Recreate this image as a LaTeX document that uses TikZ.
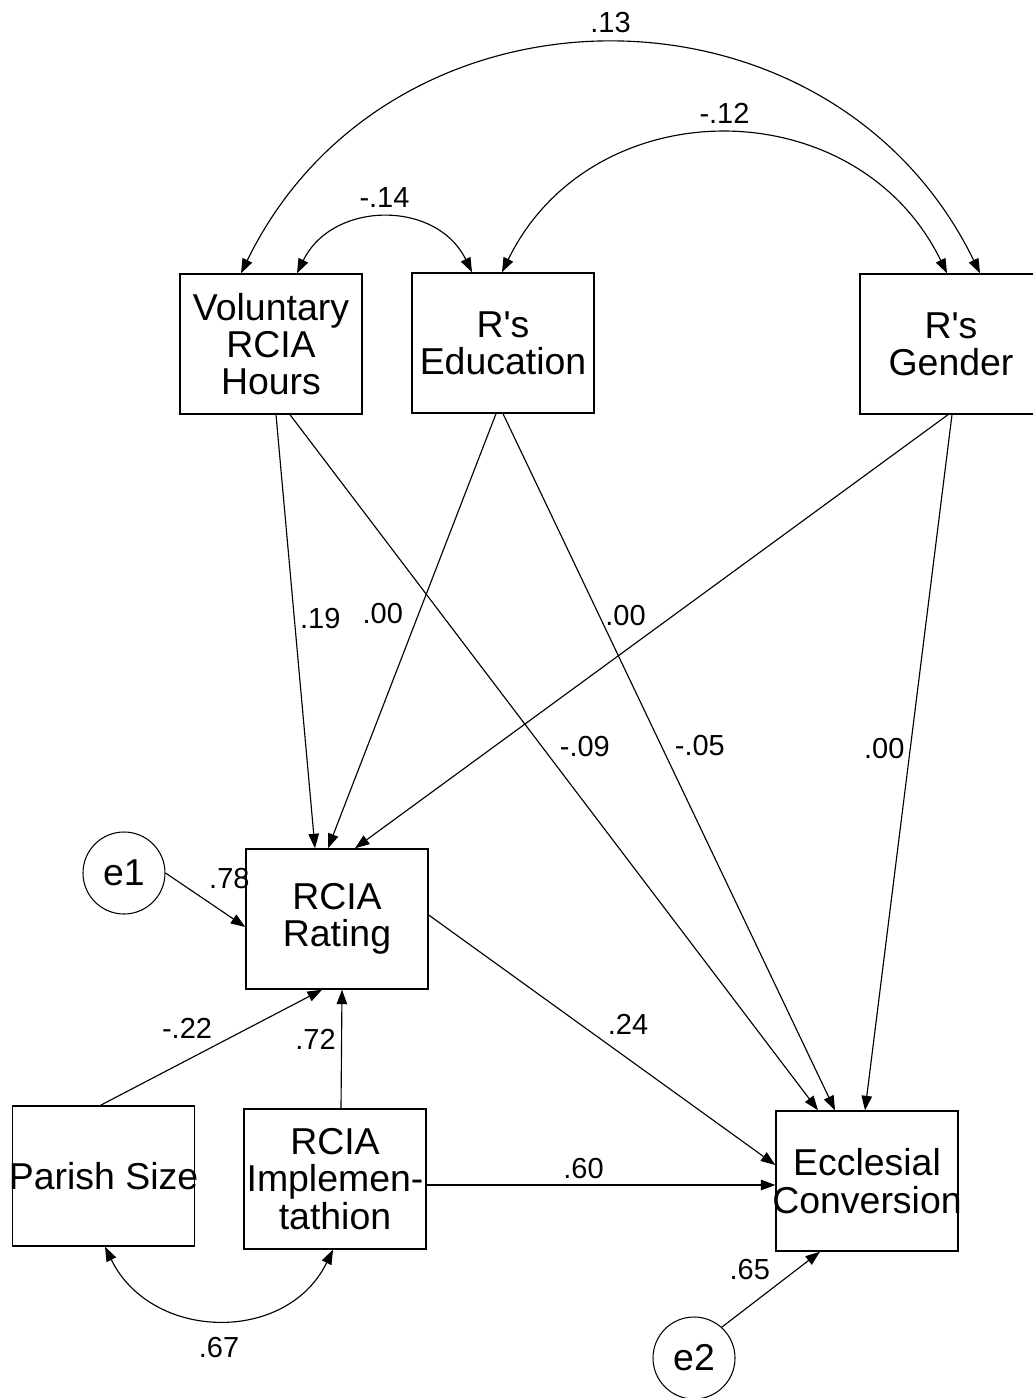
\documentclass[tikz,border=0pt]{standalone}
\usepackage{fontspec}
\newfontfamily\amosfont{Liberation Sans}
\usetikzlibrary{calc,positioning,arrows.meta}
\newcommand{\varfnt}{\amosfont\fontsize{21.3}{21.2}\selectfont}
\newcommand{\coeffnt}{\amosfont\fontsize{16.5}{18}\selectfont}

\begin{document}
\begin{tikzpicture}[x=0.2mm, y=0.2mm, >={Triangle[length=2.9mm,width=2.1mm]},
    var/.style={draw, line width=0.8pt, minimum width=36.4mm, minimum height=28mm,
      align=center, inner xsep=-8pt, inner ysep=1pt, font=\varfnt},
    err/.style={circle, draw, line width=0.6pt, minimum size=16.4mm, inner sep=0pt, font=\varfnt},
    path/.style={->, line width=0.65pt},
    cov/.style={<->, line width=0.65pt, out=64, in=116, looseness=1.18},
    coef/.style={font=\coeffnt, inner sep=3pt}]
  \useasboundingbox (0,0) rectangle (1032,-1398);

  % exogenous variables
  \node[var] (vol) at (271,-344) {Voluntary\\RCIA\\Hours};
  \node[var] (edu) at (503,-343) {R\textquotesingle s\\Education};
  \node[var] (gen) at (951,-344) {R\textquotesingle s\\Gender};
  \node[var] (size) at (103.5,-1176) {Parish Size};
  \node[var] (impl) at (335,-1179) {RCIA\\Implemen-\\tathion};
  % endogenous variables and their errors
  \node[var] (rate) at (337,-919) {RCIA\\Rating};
  \node[var] (conv) at (867,-1181) {Ecclesial\\Conversion};
  \node[err] (e1) at (124,-873) {e1};
  \node[err] (e2) at (694,-1358) {e2};

  % correlations
  \draw[cov] ([shift={(-30,0)}]vol.north) to node[coef, above=1mm] {.13} ([shift={(29,0)}]gen.north);
  \draw[cov] ([shift={(-1,0)}]edu.north) to node[coef, above=1mm] {-.12} ([shift={(-4,0)}]gen.north);
  \draw[cov] ([shift={(26,0)}]vol.north) to node[coef, above=1mm] {-.14} ([shift={(-31,0)}]edu.north);
  \draw[cov, out=-64, in=-116] ([shift={(1.5,0)}]size.south) to node[coef, below=2.5mm] {.67} ([shift={(-2,0)}]impl.south);

  % paths into RCIA rating
  \draw[path] ([shift={(5,0)}]vol.south) -- node[coef, pos=.47, right] {.19} ([shift={(-22,0)}]rate.north);
  \draw[path] ([shift={(-7,0)}]edu.south) -- node[coef, pos=.46, left=2mm] {.00} ([shift={(-9,0)}]rate.north);
  \draw[path] ([shift={(-3,0)}]gen.south) -- node[coef, pos=.5, above left] {.00} ([shift={(18,0)}]rate.north);
  \draw[path] (e1.east) -- node[coef, pos=.8, above=4.4mm] {.78} ([shift={(0,-8)}]rate.west);
  \draw[path] ([shift={(-3,0)}]size.north) -- node[coef, pos=.53, above left] {-.22} ([shift={(-15,0)}]rate.south);
  \draw[path] ([shift={(6,0)}]impl.north) -- node[coef, pos=.58, left] {.72} ([shift={(5,0)}]rate.south);

  % paths into ecclesial conversion
  \draw[path] ([shift={(19,0)}]vol.south) -- node[coef, pos=.5, above right] {-.09} ([shift={(-49,0)}]conv.north);
  \draw[path] (edu.south) -- node[coef, pos=.5, above right] {-.05} ([shift={(-32,0)}]conv.north);
  \draw[path] ([shift={(1,0)}]gen.south) -- node[coef, pos=.48, left] {.00} ([shift={(-2,0)}]conv.north);
  \draw[path] ([shift={(0,4)}]rate.east) -- node[coef, pos=.5, above right] {.24} ([shift={(0,16)}]conv.west);
  \draw[path] ([shift={(0,-6)}]impl.east) -- node[coef, pos=.45, above] {.60} ([shift={(0,-4)}]conv.west);
  \draw[path] (e2.48) -- node[coef, pos=.55, above left] {.65} ([shift={(-47,0)}]conv.south);
\end{tikzpicture}
\end{document}
